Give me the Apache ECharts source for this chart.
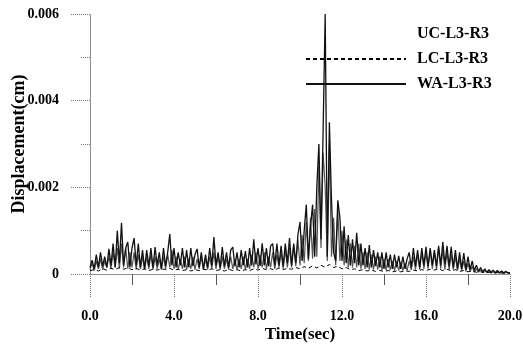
<!DOCTYPE html>
<html>
<head>
<meta charset="utf-8">
<script src="https://cdn.jsdelivr.net/npm/echarts@6/dist/echarts.min.js"></script>
<style>html,body{margin:0;padding:0;background:#fff;}#c{width:523px;height:349px;}</style>
</head>
<body>
<div id="c"></div>
<script>
// Displacement values in units of 1e-4 cm
const dtMain = 0.1;   // sample step (sec) for UC and WA
const dtLC = 0.2;     // sample step (sec) for LC
const seriesNames = ['UC-L3-R3', 'LC-L3-R3', 'WA-L3-R3'];
const xTicks = ['0.0', '4.0', '8.0', '12.0', '16.0', '20.0'];
const yTicks = ['0', '0.002', '0.004', '0.006'];

const WA = [
  1.5, 3.2, 1.2, 4.5, 1.5, 5, 1.8, 4, 1.5, 5.8,
  2, 7, 1.5, 10, 2.5, 11.8, 2, 6, 7.4, 1.5,
  6, 8.3, 2, 7, 1.5, 5.5, 1.2, 5.5, 1.8, 6,
  1.5, 6.2, 2, 5, 1.2, 6, 1.8, 5, 9.2, 2,
  6, 1.5, 5, 2, 6, 1.5, 5.5, 1.5, 6, 1.8,
  4.5, 5.8, 1.5, 5, 1.2, 4.5, 1.5, 6, 2, 8.5,
  2, 5, 1.5, 6.2, 1.8, 5, 1.5, 5.5, 6.2, 1.8,
  5, 1.5, 5.5, 2, 5.3, 1.5, 6, 2, 8, 2.2,
  6, 1.8, 7.1, 2, 6, 1.8, 6.5, 7, 2, 7,
  2, 6.5, 1.8, 7, 2.5, 8.3, 2, 7, 2.5, 9,
  12, 3, 10, 16, 3.5, 11, 16, 4, 20, 30,
  8, 33, 60, 4, 35, 17, 5, 3, 17, 13,
  3, 11, 2.5, 9, 2, 8, 2.5, 9.5, 2, 7,
  2, 6, 1.5, 6.7, 1.5, 5.5, 1.8, 5, 1.5, 5,
  1.2, 5, 1.5, 4.5, 1.2, 4.5, 1.5, 4.2, 1.2, 4,
  1.2, 3.5, 5, 1.5, 6, 1.8, 5.5, 1.5, 6, 2,
  6.3, 1.8, 6, 2, 5.5, 1.8, 6.5, 2, 7.4, 2.2,
  6.5, 1.8, 6.3, 1.5, 5.5, 1.2, 5, 1.2, 4.8, 1,
  4, 1, 3, 0.8, 2, 0.6, 1.5, 0.5, 1.2, 0.4,
  1, 0.4, 0.9, 0.3, 0.8, 0.3, 0.7, 0.3, 0.6, 0.3, 0.3
];

const UC = [
  1, 2.5, 0.8, 3, 1.2, 3.5, 1, 3, 1.5, 4,
  1.2, 5, 1.5, 6, 1.2, 7, 1.5, 6, 1.2, 5,
  1.5, 5, 1, 4.5, 1.2, 4, 1, 4, 1.2, 4.5,
  1, 4, 1.2, 3.5, 1, 4, 1.2, 4.5, 1.5, 5.5,
  1.2, 4, 1, 3.5, 1.2, 4, 1, 3.5, 1.2, 4,
  1, 3.5, 1.2, 4, 1, 3.5, 1, 4, 1.2, 5,
  1.2, 4, 1, 4, 1.2, 3.5, 1, 4, 1.2, 3.5,
  1, 3.5, 1.2, 4, 1, 3.5, 1.2, 4.5, 1.5, 5,
  1.2, 4.5, 1.5, 5, 1.2, 4, 1.5, 5, 1.2, 4.5,
  1.5, 5, 1.2, 5.5, 1.5, 6, 1.5, 6.5, 1.8, 8,
  2, 9, 2.5, 12, 3, 13, 3.5, 15, 4, 25,
  6, 28, 20, 3, 30, 4, 13, 2, 15, 3,
  10, 2, 8, 1.5, 7, 1.5, 6.5, 1.5, 7, 1.2,
  5, 1.2, 5, 1, 4.5, 1, 4, 1, 4, 0.9,
  3.5, 0.9, 3.5, 0.9, 3, 0.8, 3, 0.8, 2.8, 0.8,
  2.5, 0.8, 3, 0.9, 4, 1, 4.5, 1, 5, 1.2,
  5, 1.2, 5.5, 1.2, 5, 1, 6, 1.2, 5.5, 1,
  5, 1, 4.5, 1, 4, 0.8, 3.5, 0.8, 3, 0.6,
  2.5, 0.5, 1.8, 0.4, 1.2, 0.4, 1, 0.3, 0.8, 0.3,
  0.6, 0.2, 0.5, 0.2, 0.5, 0.2, 0.4, 0.2, 0.4, 0.2, 0.2
];

const LC = [
  0.8, 1, 0.7, 1.2, 0.9, 1.3, 1, 1.5, 1.1, 1.4,
  1, 1.3, 0.9, 1.2, 0.8, 1.1, 0.9, 1.2, 1, 1.3,
  0.9, 1.1, 0.8, 1, 0.7, 1, 0.8, 1.1, 0.9, 1.2,
  0.8, 1, 0.7, 1.1, 0.8, 1, 0.7, 1, 0.8, 1.2,
  0.9, 1.3, 1, 1.2, 0.9, 1.4, 1, 1.3, 1.1, 1.5,
  1.2, 1.7, 1.3, 1.9, 1.4, 2, 1.6, 2.2, 1.5, 1.8,
  1.2, 1.5, 1, 1.2, 0.8, 1, 0.7, 0.9, 0.6, 0.8,
  0.6, 0.8, 0.5, 0.7, 0.5, 0.7, 0.6, 0.9, 0.7, 1,
  0.8, 1.1, 0.9, 1.2, 0.8, 1.1, 0.7, 1, 0.6, 0.8,
  0.5, 0.7, 0.4, 0.5, 0.3, 0.4, 0.3, 0.3, 0.2, 0.2, 0.2
];

const toPairs = (arr, dt) => arr.map((v, i) => [+(i * dt).toFixed(2), v]);

const FONT = 'Liberation Serif';
const frameLine = { show: true, lineStyle: { color: '#8a8a8a', type: 'dotted', width: 1 } };

const chart = echarts.init(document.getElementById('c'), null, { renderer: 'canvas' });
chart.setOption({
  animation: false,
  backgroundColor: '#fff',
  grid: { left: 90, right: 13, top: 14, bottom: 75, containLabel: false, outerBoundsMode: 'none' },
  legend: {
    orient: 'vertical',
    left: 300,
    top: 21,
    itemWidth: 100,
    itemHeight: 14,
    itemGap: 9,
    align: 'left',
    itemStyle: { opacity: 0 },
    textStyle: { fontFamily: FONT, fontWeight: 'bold', fontSize: 16, color: '#000', padding: [0, 0, 0, 6] },
    data: [
      { name: seriesNames[0], lineStyle: { opacity: 0 }, itemStyle: { opacity: 0 } },
      { name: seriesNames[1], itemStyle: { opacity: 0 } },
      { name: seriesNames[2], itemStyle: { opacity: 0 } }
    ]
  },
  xAxis: [{
    type: 'value', min: 0, max: 20, interval: 4,
    name: 'Time(sec)', nameLocation: 'middle', nameGap: 52, nameMoveOverlap: false,
    nameTextStyle: { fontFamily: FONT, fontWeight: 'bold', fontSize: 17, color: '#000' },
    axisLine: frameLine,
    axisTick: { show: true, length: 23, lineStyle: { color: '#777', type: 'dotted' } },
    minorTick: { show: true, splitNumber: 2, length: 11, lineStyle: { color: '#555' } },
    splitLine: { show: false },
    axisLabel: {
      margin: 35, fontFamily: FONT, fontWeight: 'bold', fontSize: 14, color: '#000',
      formatter: v => xTicks[Math.round(v / 4)]
    }
  }, {
    type: 'value', min: 0, max: 20, position: 'top',
    axisLine: frameLine, axisTick: { show: false }, axisLabel: { show: false }, splitLine: { show: false }
  }],
  yAxis: [{
    type: 'value', min: 0, max: 60, interval: 20,
    name: 'Displacement(cm)', nameLocation: 'middle', nameGap: 62, nameMoveOverlap: false,
    nameTextStyle: { fontFamily: FONT, fontWeight: 'bold', fontSize: 18, color: '#000' },
    axisLine: frameLine,
    axisTick: { show: true, length: 20, lineStyle: { color: '#777', type: 'dotted' } },
    minorTick: { show: true, splitNumber: 2, length: 10, lineStyle: { color: '#777', type: 'dotted' } },
    splitLine: { show: false },
    axisLabel: {
      margin: 31, fontFamily: FONT, fontWeight: 'bold', fontSize: 14, color: '#000',
      formatter: v => yTicks[Math.round(v / 20)]
    }
  }, {
    type: 'value', min: 0, max: 60, position: 'right',
    axisLine: frameLine, axisTick: { show: false }, axisLabel: { show: false }, splitLine: { show: false }
  }],
  series: [
    {
      name: seriesNames[0], type: 'line', showSymbol: false, symbol: 'none',
      data: toPairs(UC, dtMain),
      lineStyle: { color: '#555', width: 1.2 }, itemStyle: { color: '#555' }
    },
    {
      name: seriesNames[1], type: 'line', showSymbol: false, symbol: 'none',
      data: toPairs(LC, dtLC),
      lineStyle: { color: '#000', width: 1, type: [4, 3] }, itemStyle: { color: '#000' }
    },
    {
      name: seriesNames[2], type: 'line', showSymbol: false, symbol: 'none',
      data: toPairs(WA, dtMain),
      lineStyle: { color: '#111', width: 1.3 }, itemStyle: { color: '#111' }
    }
  ]
});
</script>
</body>
</html>
